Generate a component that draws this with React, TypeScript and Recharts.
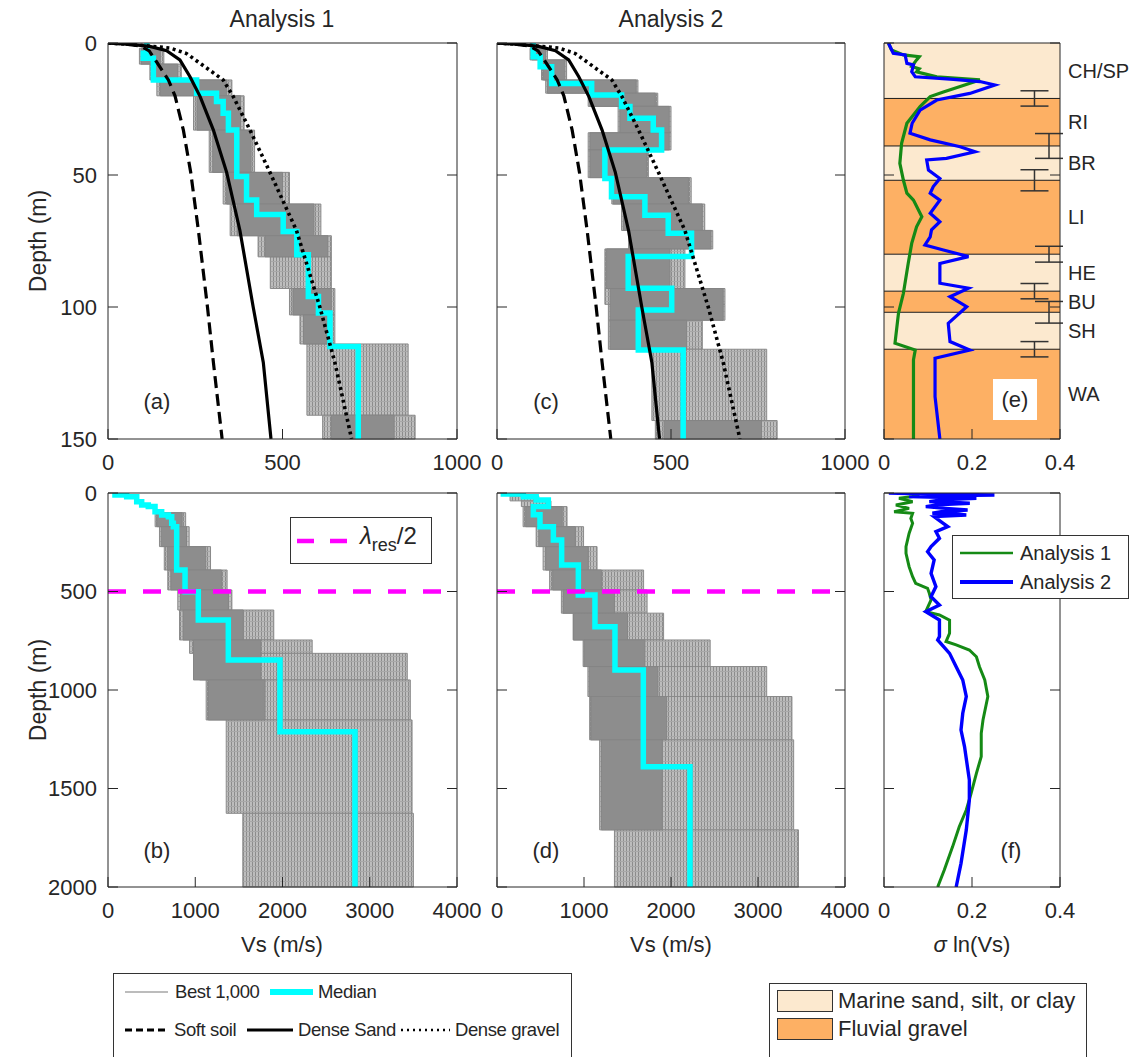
import React from 'react';
import {
  ComposedChart, Line, Scatter, ErrorBar, XAxis, YAxis, ReferenceArea, ReferenceLine,
} from 'recharts';

const FONT = '"Liberation Sans", Arial, Helvetica, sans-serif';
const INK = '#262626';
const CYAN = '#00ffff';
const GREEN = '#158a15';
const BLUE = '#0000ff';
const MARINE = '#fce9cf';
const FLUVIAL = '#fdb064';

// generic Vs-depth curves, [depth m, Vs m/s]
const softSoil: [number, number][] = [[0, 0], [0.5, 60], [1.2, 95], [3, 118], [7.1, 139], [14, 173], [20, 192], [33, 216], [49, 237], [71, 259], [100, 285], [121, 302], [150, 327]];
const denseSand: [number, number][] = [[0, 0], [0.6, 72], [1.3, 120], [2.9, 168], [6.4, 206], [12.8, 235], [20.3, 264], [33, 302], [49, 340], [71, 378], [100, 416], [121, 445], [150, 467]];
const denseGravel: [number, number][] = [[0, 0], [0.6, 72], [1.2, 120], [1.9, 178], [4, 225], [7.7, 264], [14, 330], [20.3, 359], [33, 407], [49, 464], [71, 540], [100, 607], [121, 650], [150, 698]];

// median profiles: layer Vs and layer bottom depth
const medAVs = [111, 101, 130, 254, 311, 330, 345, 369, 397, 426, 502, 541, 574, 603, 636, 717];
const medABot = [3.9, 5.8, 14, 19, 22.2, 26.6, 33, 50.6, 59.5, 65, 71.4, 80.2, 96, 102.3, 115, 150];
const medCVs = [104, 124, 157, 272, 358, 382, 449, 473, 310, 329, 425, 492, 559, 377, 502, 406, 535];
const medCBot = [5.2, 9, 15.3, 19.7, 24.1, 28.5, 33, 40.5, 51.3, 58.2, 65.2, 72.1, 80.9, 92.9, 101.1, 116.3, 150];
const medBVs = [80, 214, 329, 386, 462, 539, 615, 692, 730, 749, 787, 883, 1035, 1379, 1971, 2831];
const medBBot = [10, 19, 44, 61, 69, 95, 112, 120, 154, 171, 391, 501, 645, 848, 1212, 2000];
const medDVs = [73, 303, 450, 590, 418, 494, 648, 743, 935, 1126, 1356, 1682, 2218];
const medDBot = [5, 19, 36, 69, 110, 171, 239, 365, 518, 679, 898, 1389, 2000];

// spread of the best 1,000 profiles: [top depth, bottom depth, Vs low, Vs high]
const bandAOuter = [[2, 8, 90, 160], [8, 14, 120, 210], [14, 20, 140, 355], [20, 33, 245, 390], [33, 49, 290, 420], [49, 61, 330, 520], [61, 73, 350, 610], [73, 81, 430, 640], [81, 93, 465, 640], [93, 103, 520, 650], [103, 114, 550, 650], [114, 141, 570, 860], [141, 150, 615, 880]];
const bandACore = [[2, 8, 95, 150], [8, 14, 125, 200], [14, 20, 150, 340], [20, 33, 255, 380], [33, 49, 300, 410], [49, 61, 340, 500], [61, 73, 370, 590], [73, 81, 450, 630], [93, 103, 530, 640], [103, 114, 560, 640], [141, 150, 640, 820]];
const bandCOuter = [[2, 6.4, 95, 145], [6.4, 14, 128, 200], [14, 19, 140, 405], [19, 24, 262, 462], [24, 34, 348, 500], [34, 40.5, 262, 500], [40.5, 51, 262, 435], [51, 61, 330, 558], [61, 71, 358, 597], [71, 78, 378, 620], [78, 93, 310, 540], [93, 99, 310, 655], [99, 105, 320, 655], [105, 116, 320, 590], [116, 143, 445, 775], [143, 150, 455, 805]];
const bandCCore = [[2, 6.4, 100, 140], [6.4, 14, 133, 195], [14, 19, 145, 400], [19, 24, 267, 455], [24, 34, 353, 495], [34, 40.5, 267, 495], [40.5, 51, 267, 430], [51, 61, 334, 550], [61, 71, 363, 590], [71, 78, 382, 615], [78, 93, 315, 497], [93, 105, 325, 650], [105, 116, 325, 545], [143, 150, 480, 760]];
const bandBOuter = [[100, 171, 540, 890], [171, 272, 590, 930], [272, 391, 645, 1175], [391, 492, 685, 1365], [492, 594, 800, 1420], [594, 746, 820, 1900], [746, 814, 935, 2340], [814, 949, 1050, 3430], [949, 1152, 1125, 3465], [1152, 1626, 1355, 3485], [1626, 2000, 1545, 3500]];
const bandBCore = [[100, 171, 560, 850], [171, 272, 610, 900], [272, 391, 680, 1120], [391, 492, 720, 1300], [492, 594, 830, 1380], [594, 746, 860, 1550], [746, 949, 980, 1750], [949, 1152, 1150, 1800]];
const bandDOuter = [[15, 40, 150, 480], [40, 69, 280, 620], [69, 171, 300, 805], [171, 272, 450, 995], [272, 391, 530, 1150], [391, 492, 605, 1685], [492, 610, 740, 1725], [610, 746, 875, 1915], [746, 881, 990, 2450], [881, 1033, 1045, 3100], [1033, 1253, 1065, 3390], [1253, 1710, 1180, 3410], [1710, 2000, 1350, 3465]];
const bandDCore = [[69, 171, 330, 750], [171, 272, 480, 900], [272, 391, 560, 1050], [391, 492, 640, 1200], [492, 610, 760, 1350], [610, 746, 880, 1500], [746, 881, 1000, 1700], [881, 1033, 1060, 1850], [1033, 1253, 1080, 1950], [1253, 1710, 1200, 1900]];

// geology column
const unitNames = ['CH/SP', 'RI', 'BR', 'LI', 'HE', 'BU', 'SH', 'WA'];
const unitTops = [0, 21, 39, 52, 80, 94, 102, 116];
const unitBottoms = [21, 39, 52, 80, 94, 102, 116, 150];
const unitMarine = [true, false, true, false, true, false, true, false];

// boundary uncertainty bars
const errDepth = [21, 39, 52, 80, 94, 102, 116];
const errHalf = [2.9, 4.7, 4.0, 3.0, 2.9, 4.1, 2.9];
const errSigma = [0.342, 0.375, 0.342, 0.375, 0.342, 0.375, 0.342];

// sigma ln(Vs), [depth, sigma]
const sigA1Top: [number, number][] = [[0, 0.010], [2.6, 0.017], [4.5, 0.044], [5.2, 0.080], [6.4, 0.074], [8.9, 0.063], [9.8, 0.080], [10.9, 0.074], [12.8, 0.12], [14, 0.218], [18.6, 0.135], [20.3, 0.105], [24.1, 0.082], [30.4, 0.052], [38, 0.040], [45.6, 0.036], [51.9, 0.044], [56.9, 0.052], [59.5, 0.067], [65.8, 0.086], [69.6, 0.074], [75.9, 0.063], [83.5, 0.055], [94.9, 0.044], [102.3, 0.033], [113.7, 0.025], [116.3, 0.071], [120, 0.067], [150, 0.067]];
const sigA2Top: [number, number][] = [[0, 0.010], [3.9, 0.021], [4.5, 0.048], [7.7, 0.052], [8.3, 0.067], [10.9, 0.063], [12.8, 0.071], [13.8, 0.158], [14.6, 0.218], [15.9, 0.252], [19.1, 0.195], [21.6, 0.120], [25.4, 0.082], [30.4, 0.064], [34.2, 0.059], [36.7, 0.105], [39.3, 0.173], [41.2, 0.207], [43.7, 0.142], [44.3, 0.097], [48.1, 0.101], [51.3, 0.127], [54.4, 0.112], [56.9, 0.105], [59.5, 0.127], [64.5, 0.105], [67.7, 0.127], [70.8, 0.108], [73.4, 0.105], [76.5, 0.093], [78.4, 0.135], [80.9, 0.192], [83.5, 0.127], [91, 0.127], [92.9, 0.192], [96.1, 0.150], [99.9, 0.188], [106.2, 0.146], [113.1, 0.150], [116.3, 0.195], [119.4, 0.116], [134, 0.116], [150, 0.127]];
const sigA1Deep: [number, number][] = [[0, 0.06], [14, 0.08], [27, 0.034], [44, 0.065], [61, 0.027], [78, 0.057], [95, 0.023], [103, 0.065], [129, 0.061], [154, 0.065], [205, 0.057], [272, 0.050], [306, 0.050], [374, 0.057], [425, 0.065], [459, 0.072], [484, 0.099], [509, 0.103], [543, 0.107], [602, 0.095], [619, 0.126], [645, 0.149], [712, 0.149], [754, 0.141], [771, 0.164], [797, 0.194], [831, 0.210], [882, 0.217], [949, 0.229], [1033, 0.236], [1152, 0.225], [1220, 0.221], [1338, 0.221], [1423, 0.210], [1525, 0.198], [1609, 0.187], [1694, 0.171], [1795, 0.156], [1914, 0.137], [2000, 0.122]];
const sigA2Deep: [number, number][] = [[0, 0.011], [5, 0.10], [10, 0.251], [14, 0.12], [18.6, 0.057], [23, 0.15], [27, 0.210], [35, 0.13], [44, 0.103], [48, 0.16], [52, 0.195], [60, 0.12], [69, 0.095], [78, 0.14], [86, 0.190], [95, 0.13], [103, 0.110], [108, 0.17], [112, 0.187], [116, 0.15], [120, 0.114], [146, 0.130], [171, 0.145], [196, 0.118], [230, 0.126], [272, 0.107], [298, 0.099], [340, 0.114], [408, 0.107], [475, 0.118], [526, 0.107], [569, 0.126], [602, 0.095], [645, 0.126], [729, 0.126], [746, 0.122], [814, 0.149], [882, 0.164], [949, 0.179], [1033, 0.187], [1118, 0.179], [1203, 0.175], [1287, 0.183], [1457, 0.194], [1558, 0.194], [1711, 0.187], [1880, 0.175], [2000, 0.164]];

const halfWavelength = 500;

const steps = (vs: number[], bottoms: number[]) =>
  vs.flatMap((v, i) => [
    { v, d: i === 0 ? 0 : bottoms[i - 1] },
    { v, d: bottoms[i] },
  ]);
const toPts = (rows: [number, number][]) => rows.map(([d, v]) => ({ d, v }));

const lineBase = { dataKey: 'd', dot: false, activeDot: false, isAnimationActive: false, legendType: 'none' as const };

function band(rows: number[][], dense: boolean, tag: string) {
  return rows.map(([d1, d2, v1, v2], i) => (
    <ReferenceArea
      key={tag + i}
      x1={v1} x2={v2} y1={d1} y2={d2}
      fill={dense ? '#8d8d8d' : 'url(#vsHatch)'}
      fillOpacity={1}
      stroke={dense ? '#858585' : '#8a8a8a'}
      strokeWidth={1}
    />
  ));
}

function refCurves(tag: string) {
  return [
    <Line key={tag + 'soft'} {...lineBase} data={toPts(softSoil)} stroke="#000" strokeWidth={3.2} strokeDasharray="12 6" />,
    <Line key={tag + 'sand'} {...lineBase} data={toPts(denseSand)} stroke="#000" strokeWidth={3.2} />,
    <Line key={tag + 'grav'} {...lineBase} data={toPts(denseGravel)} stroke="#000" strokeWidth={3.6} strokeDasharray="3 3.5" />,
  ];
}

const PAD_L = 72;
const PAD_T = 12;
const PAD_B = 44;
const TICK = 10;

type PanelProps = {
  x: number; y: number; w: number; h: number;
  xMax: number; yMax: number; xTicks: number[]; yTicks: number[];
  yLabels?: boolean; padR?: number; children?: React.ReactNode;
};

function Panel({ x, y, w, h, xMax, yMax, xTicks, yTicks, yLabels = false, padR = 34, children }: PanelProps) {
  const tickFont = { fill: INK, fontSize: 22 };
  const blank = () => '';
  return (
    <div style={{ position: 'absolute', left: x - PAD_L, top: y - PAD_T }}>
      <ComposedChart width={PAD_L + w + padR} height={PAD_T + h + PAD_B} margin={{ top: 0, right: 0, bottom: 0, left: 0 }}>
        {children}
        <XAxis xAxisId={0} type="number" dataKey="v" orientation="bottom" domain={[0, xMax]} allowDataOverflow
          ticks={xTicks} interval={0} height={PAD_B} stroke={INK} tickSize={-TICK} tickMargin={TICK + 15} tick={tickFont} />
        <XAxis xAxisId="top" type="number" orientation="top" domain={[0, xMax]} allowDataOverflow
          ticks={xTicks} interval={0} height={PAD_T} stroke={INK} tickSize={-TICK} tickFormatter={blank} />
        <YAxis yAxisId={0} type="number" dataKey="d" orientation="left" reversed domain={[0, yMax]} allowDataOverflow
          ticks={yTicks} interval={0} width={PAD_L} stroke={INK} tickSize={-TICK} tickMargin={TICK + 11}
          tick={tickFont} tickFormatter={yLabels ? undefined : blank} />
        <YAxis yAxisId="right" type="number" orientation="right" reversed domain={[0, yMax]} allowDataOverflow
          ticks={yTicks} interval={0} width={padR} stroke={INK} tickSize={-TICK} tickFormatter={blank} />
      </ComposedChart>
    </div>
  );
}

function Txt({ x, y, size = 22, children, align = 'center', tight = false }: {
  x: number; y: number; size?: number; children: React.ReactNode; align?: 'center' | 'left'; tight?: boolean;
}) {
  const w = 320;
  return (
    <div style={{
      position: 'absolute', left: align === 'center' ? x - w / 2 : x, top: y - size * 0.62, width: w,
      textAlign: align, fontSize: size, lineHeight: `${size * 1.2}px`, whiteSpace: 'nowrap',
      letterSpacing: tight ? '-0.4px' : undefined,
    }}>{children}</div>
  );
}

function Sample({ x, y, w, stroke, width, dash }: { x: number; y: number; w: number; stroke: string; width: number; dash?: string }) {
  return (
    <svg style={{ position: 'absolute', left: x, top: y - 6 }} width={w} height={12}>
      <line x1={0} y1={6} x2={w} y2={6} stroke={stroke} strokeWidth={width} strokeDasharray={dash} />
    </svg>
  );
}

export default function App() {
  const errData = errDepth.map((d, i) => ({ d, v: errSigma[i], e: errHalf[i] }));
  return (
    <div style={{ position: 'absolute', left: 0, top: 0, width: 1140, height: 1057, background: '#fff', fontFamily: FONT, color: INK, overflow: 'hidden' }}>
      <svg width={0} height={0} style={{ position: 'absolute' }}>
        <defs>
          <pattern id="vsHatch" width={3} height={5} patternUnits="userSpaceOnUse">
            <rect width={3} height={5} fill="#bdbdbd" />
            <rect width={1} height={5} fill="#8c8c8c" />
            <rect width={3} height={1} fill="#a8a8a8" />
          </pattern>
        </defs>
      </svg>

      <Txt x={282} y={20} size={23}>Analysis 1</Txt>
      <Txt x={671} y={20} size={23}>Analysis 2</Txt>

      <div style={{ position: 'absolute', left: 38 - 100, top: 241 - 14, width: 200, height: 28, textAlign: 'center', fontSize: 23, lineHeight: '28px', transform: 'rotate(-90deg)' }}>Depth (m)</div>
      <div style={{ position: 'absolute', left: 38 - 100, top: 690 - 14, width: 200, height: 28, textAlign: 'center', fontSize: 23, lineHeight: '28px', transform: 'rotate(-90deg)' }}>Depth (m)</div>

      {/* (a) */}
      <Panel x={108} y={43} w={349} h={396} xMax={1000} yMax={150} xTicks={[0, 500, 1000]} yTicks={[0, 50, 100, 150]} yLabels>
        {band(bandAOuter, false, 'ao')}
        {band(bandACore, true, 'ac')}
        <Line {...lineBase} data={steps(medAVs, medABot)} stroke={CYAN} strokeWidth={5.5} />
        {refCurves('a')}
      </Panel>

      {/* (c) */}
      <Panel x={497} y={43} w={348} h={396} xMax={1000} yMax={150} xTicks={[0, 500, 1000]} yTicks={[0, 50, 100, 150]}>
        {band(bandCOuter, false, 'co')}
        {band(bandCCore, true, 'cc')}
        <Line {...lineBase} data={steps(medCVs, medCBot)} stroke={CYAN} strokeWidth={5.5} />
        {refCurves('c')}
      </Panel>

      {/* (e) */}
      <Panel x={884} y={43} w={176} h={396} xMax={0.4} yMax={150} xTicks={[0, 0.2, 0.4]} yTicks={[0, 50, 100, 150]} padR={78}>
        {unitNames.map((name, i) => (
          <ReferenceArea key={'u' + i} x1={0} x2={0.4} y1={unitTops[i]} y2={unitBottoms[i]}
            fill={unitMarine[i] ? MARINE : FLUVIAL} fillOpacity={1} stroke="none"
            label={{ value: name, position: 'right', offset: 8, fill: INK, fontSize: 20 }} />
        ))}
        {unitTops.slice(1).map((d) => (
          <ReferenceLine key={'b' + d} y={d} stroke="#1a1a1a" strokeWidth={1} />
        ))}
        <Line {...lineBase} data={toPts(sigA1Top)} stroke={GREEN} strokeWidth={3.2} />
        <Line {...lineBase} data={toPts(sigA2Top)} stroke={BLUE} strokeWidth={3.2} />
        <Scatter data={errData} shape={() => <g />} isAnimationActive={false} legendType="none">
          <ErrorBar dataKey="e" direction="y" width={14} stroke="#333" strokeWidth={1.5} />
        </Scatter>
      </Panel>

      {/* (b) */}
      <Panel x={108} y={493} w={349} h={394} xMax={4000} yMax={2000} xTicks={[0, 1000, 2000, 3000, 4000]} yTicks={[0, 500, 1000, 1500, 2000]} yLabels>
        {band(bandBOuter, false, 'bo')}
        {band(bandBCore, true, 'bc')}
        <Line {...lineBase} data={steps(medBVs, medBBot)} stroke={CYAN} strokeWidth={5.5} />
        <ReferenceLine y={halfWavelength} stroke="#ff00ff" strokeWidth={4.5} strokeDasharray="18 17" />
      </Panel>

      {/* (d) */}
      <Panel x={497} y={493} w={348} h={394} xMax={4000} yMax={2000} xTicks={[0, 1000, 2000, 3000, 4000]} yTicks={[0, 500, 1000, 1500, 2000]}>
        {band(bandDOuter, false, 'do')}
        {band(bandDCore, true, 'dc')}
        <Line {...lineBase} data={steps(medDVs, medDBot)} stroke={CYAN} strokeWidth={5.5} />
        <ReferenceLine y={halfWavelength} stroke="#ff00ff" strokeWidth={4.5} strokeDasharray="18 17" />
      </Panel>

      {/* (f) */}
      <Panel x={884} y={493} w={176} h={394} xMax={0.4} yMax={2000} xTicks={[0, 0.2, 0.4]} yTicks={[0, 500, 1000, 1500, 2000]}>
        <Line {...lineBase} data={toPts(sigA1Deep)} stroke={GREEN} strokeWidth={3} />
        <Line {...lineBase} data={toPts(sigA2Deep)} stroke={BLUE} strokeWidth={3.4} />
      </Panel>

      {/* panel letters */}
      <Txt x={157} y={403}>(a)</Txt>
      <Txt x={546} y={403}>(c)</Txt>
      <div style={{ position: 'absolute', left: 993, top: 379, width: 44, height: 41, background: '#fff', fontSize: 22, lineHeight: '41px', textAlign: 'center' }}>(e)</div>
      <Txt x={157} y={852}>(b)</Txt>
      <Txt x={546} y={852}>(d)</Txt>
      <Txt x={1011} y={852}>(f)</Txt>

      {/* axis titles */}
      <Txt x={282} y={946} size={22}>Vs (m/s)</Txt>
      <Txt x={671} y={946} size={22}>Vs (m/s)</Txt>
      <Txt x={972} y={946} size={22}><i>σ</i> ln(Vs)</Txt>

      {/* lambda legend in (b) */}
      <div style={{ position: 'absolute', left: 290, top: 517, width: 142, height: 47, border: '1px solid #333', background: '#fff', boxSizing: 'border-box' }} />
      <Sample x={297} y={541} w={56} stroke="#ff00ff" width={4.5} dash="17 16" />
      <div style={{ position: 'absolute', left: 360, top: 521, fontSize: 24, lineHeight: '30px', whiteSpace: 'nowrap' }}>
        <i>λ</i><span style={{ fontSize: 18, position: 'relative', top: 7 }}>res</span>/2
      </div>

      {/* sigma legend in (f) */}
      <div style={{ position: 'absolute', left: 952, top: 535, width: 177, height: 64, border: '1px solid #333', background: '#fff', boxSizing: 'border-box' }} />
      <Sample x={960} y={553} w={53} stroke={GREEN} width={2.5} />
      <Txt x={1020} y={553} size={20} align="left">Analysis 1</Txt>
      <Sample x={960} y={582} w={53} stroke={BLUE} width={4} />
      <Txt x={1020} y={582} size={20} align="left">Analysis 2</Txt>

      {/* profile legend */}
      <div style={{ position: 'absolute', left: 113, top: 973, width: 459, height: 100, border: '1px solid #333', background: '#fff', boxSizing: 'border-box' }} />
      <Sample x={125} y={992} w={43} stroke="#a6a6a6" width={1.5} />
      <Txt x={175} y={992} size={18.5} align="left" tight>Best 1,000</Txt>
      <Sample x={270} y={992} w={43} stroke={CYAN} width={6} />
      <Txt x={318} y={992} size={18.5} align="left" tight>Median</Txt>
      <Sample x={125} y={1030} w={43} stroke="#000" width={3} dash="7 4" />
      <Txt x={174} y={1030} size={18.5} align="left" tight>Soft soil</Txt>
      <Sample x={247} y={1030} w={46} stroke="#000" width={3} />
      <Txt x={298} y={1030} size={18.5} align="left" tight>Dense Sand</Txt>
      <Sample x={401} y={1030} w={49} stroke="#000" width={2.5} dash="2 4" />
      <Txt x={455} y={1030} size={18.5} align="left" tight>Dense gravel</Txt>

      {/* geology legend */}
      <div style={{ position: 'absolute', left: 769, top: 983, width: 318, height: 100, border: '1px solid #333', background: '#fff', boxSizing: 'border-box' }} />
      <div style={{ position: 'absolute', left: 777, top: 990, width: 56, height: 22, background: MARINE, border: '1px solid #333', boxSizing: 'border-box' }} />
      <Txt x={838} y={1002} size={22} align="left">Marine sand, silt, or clay</Txt>
      <div style={{ position: 'absolute', left: 777, top: 1018, width: 56, height: 22, background: FLUVIAL, border: '1px solid #333', boxSizing: 'border-box' }} />
      <Txt x={838} y={1030} size={22} align="left">Fluvial gravel</Txt>
    </div>
  );
}
